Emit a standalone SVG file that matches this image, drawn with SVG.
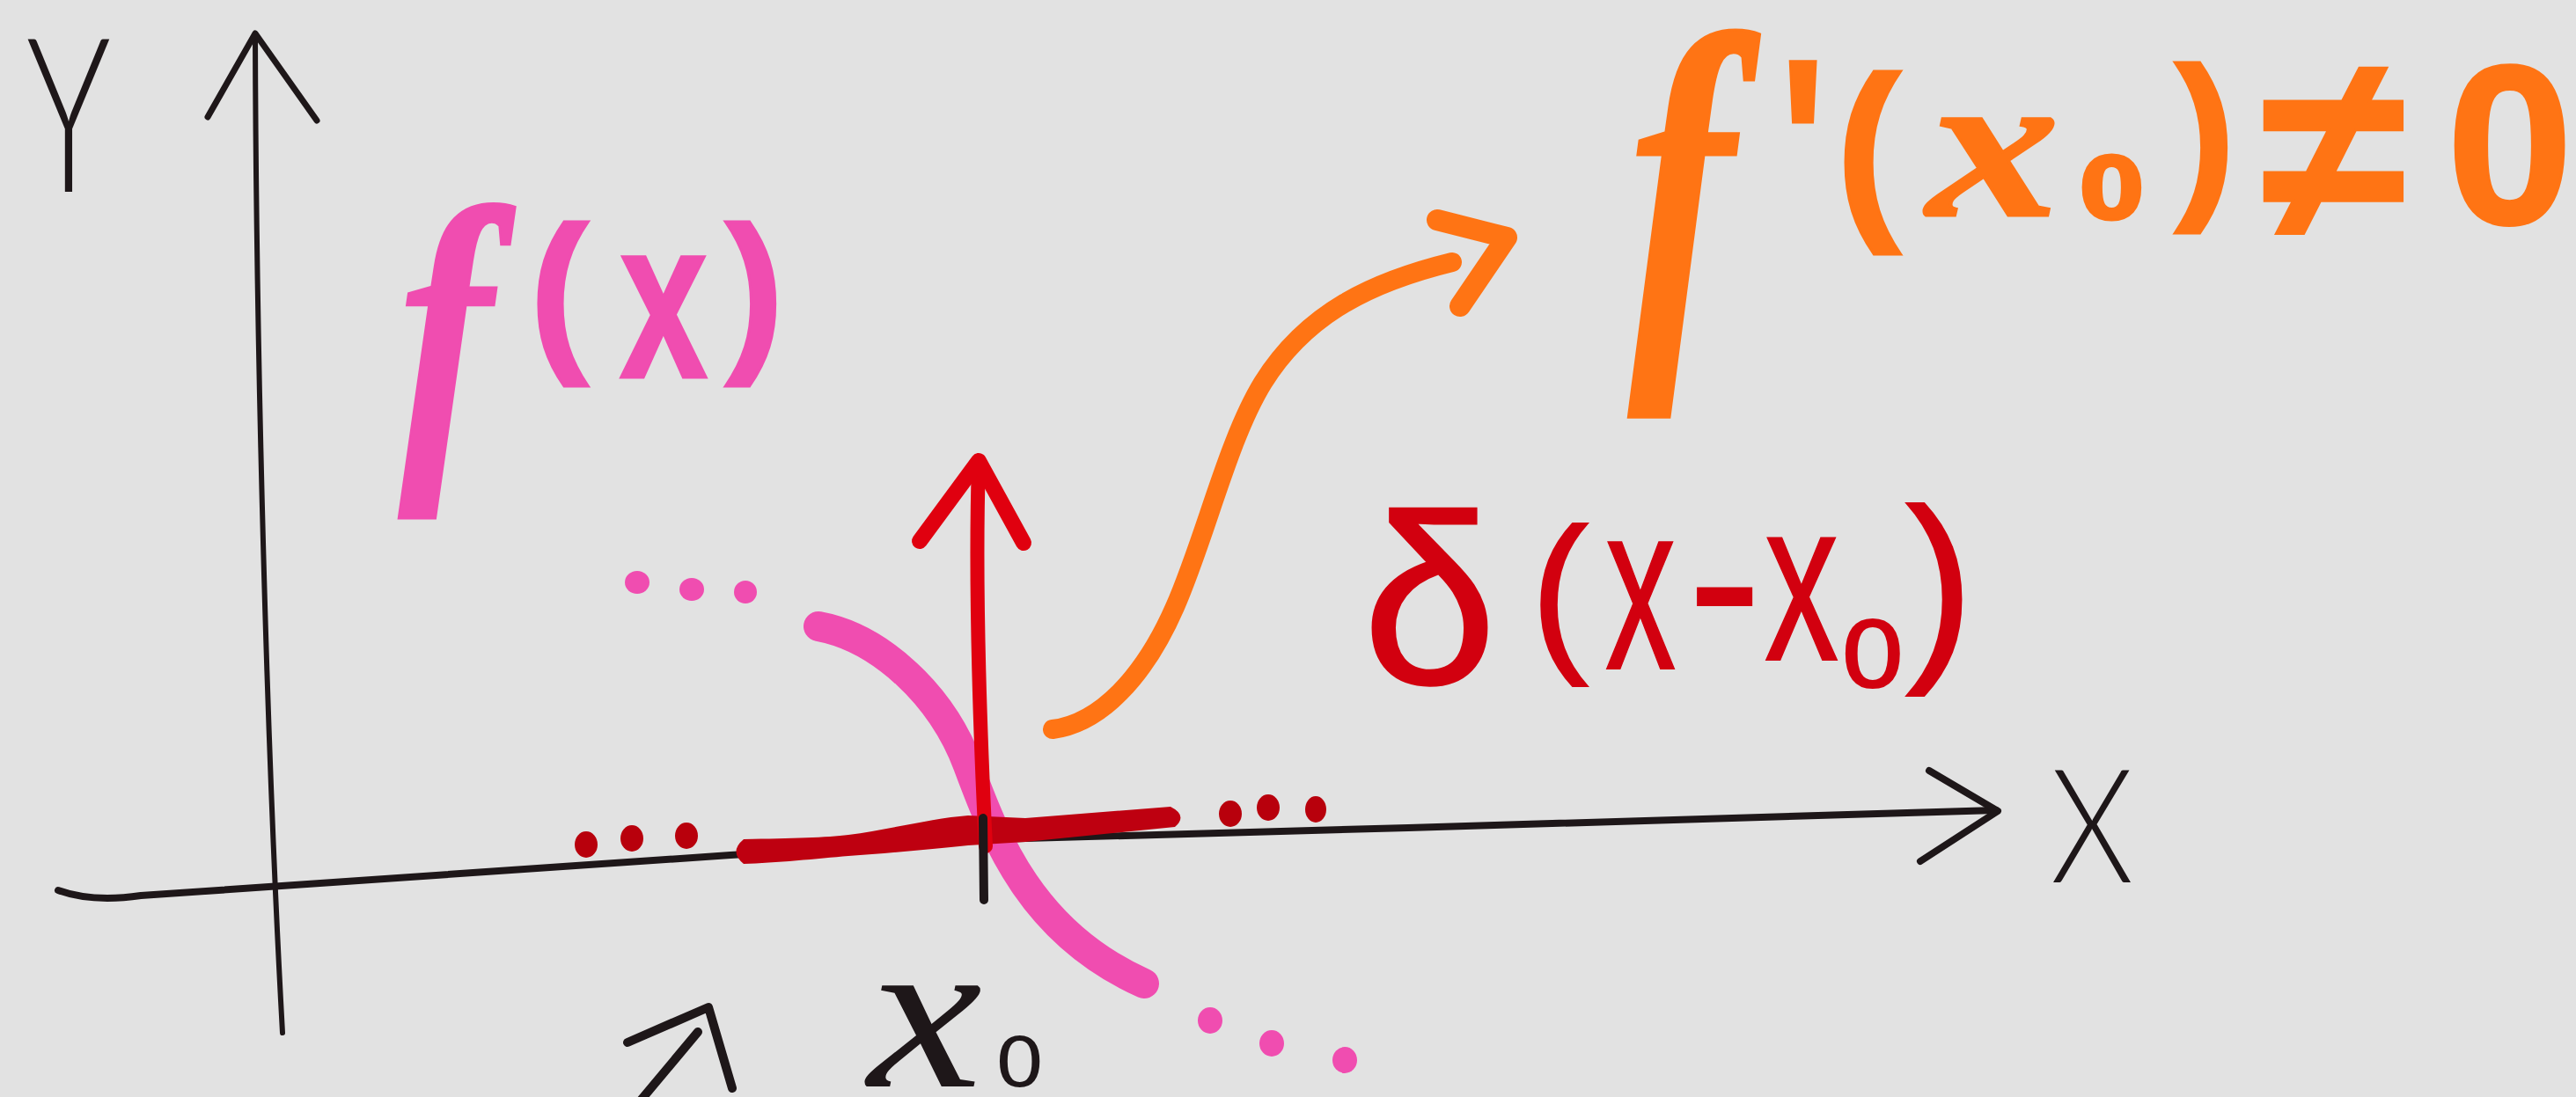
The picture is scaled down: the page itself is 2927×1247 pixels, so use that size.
<svg xmlns="http://www.w3.org/2000/svg" width="2927" height="1247" viewBox="0 0 2927 1247">
<style>
.ink{fill:none;stroke:#1e1719;stroke-linecap:round;stroke-linejoin:round}
.mk{fill:none;stroke-linecap:round;stroke-linejoin:round}
.thin{font-family:Lato,"DejaVu Sans",sans-serif;font-weight:300;fill:#1e1719}
.pink{fill:#f04db0;stroke:#f04db0;stroke-width:3}
.red{fill:#d2000f;stroke:#d2000f;stroke-width:2}
.orange{fill:#ff7414;stroke:#ff7414;stroke-width:3}
.sans{font-family:"Liberation Sans",Arial,sans-serif}
.serif{font-family:"Liberation Serif","Times New Roman",serif;font-style:italic}
.sub{font-family:"DejaVu Sans",sans-serif}
</style>
<rect width="2927" height="1247" fill="#e2e2e2"/>

<g id="y-axis">
  <path class="ink" stroke-width="6" d="M290,40 C291,400 303,850 321,1174"/>
  <path class="ink" stroke-width="7" d="M236,133 L290,38 L360,137"/>
</g>
<g id="x-axis">
  <path class="ink" stroke-width="8" d="M66,1012 Q105,1026 160,1018 L830,972 L1130,954 L1600,941 L2268,921"/>
  <path class="ink" stroke-width="8" d="M2192,876 L2270,922 L2182,979"/>
</g>

<g id="label-y">
  <text class="thin" font-size="244" transform="translate(30,218) scale(0.66,1)">Y</text>
</g>
<g id="label-x">
  <text class="thin" font-size="180" transform="translate(2330,1003) scale(0.84,1)">X</text>
</g>

<g id="curve-f">
  <path class="mk" stroke="#f04db0" stroke-width="34" d="M930,712 C1000,725 1070,790 1100,870 C1130,950 1170,1060 1300,1118"/>
  <g fill="#f04db0">
    <ellipse cx="724" cy="662" rx="14" ry="13"/>
    <ellipse cx="786" cy="670" rx="14" ry="13"/>
    <ellipse cx="847" cy="673" rx="13" ry="13"/>
    <ellipse cx="1375" cy="1160" rx="14" ry="15"/>
    <ellipse cx="1445" cy="1186" rx="14" ry="15"/>
    <ellipse cx="1528" cy="1205" rx="14" ry="15"/>
  </g>
</g>

<g id="delta-spike">
  <path fill="#be0010" d="M845,954 C900,953 940,952 964,949 C1010,943 1060,930 1100,927 L1165,930 L1330,917 Q1350,927 1335,940 L1165,957 L1100,961 C1060,965 1010,970 964,973 C930,976 880,981 845,982 Q828,968 845,954 Z"/>
  <g fill="#b8000c">
    <ellipse cx="666" cy="960" rx="13" ry="15"/>
    <ellipse cx="718" cy="953" rx="13" ry="15"/>
    <ellipse cx="780" cy="950" rx="13" ry="15"/>
    <ellipse cx="1398" cy="925" rx="13" ry="15"/>
    <ellipse cx="1441" cy="918" rx="13" ry="15"/>
    <ellipse cx="1495" cy="920" rx="12" ry="15"/>
  </g>
  <path class="mk" stroke="#e0000f" stroke-width="16" d="M1112,526 C1108,650 1112,800 1120,962"/>
  <path class="mk" stroke="#e0000f" stroke-width="18" d="M1045,615 L1112,524 L1163,617"/>
  <path class="ink" stroke-width="10" d="M1117,930 L1118,1023"/>
</g>

<g id="connectors">
  <path class="mk" stroke="#ff7414" stroke-width="22" d="M1196,829 C1250,822 1300,770 1335,690 C1370,610 1395,500 1435,435 C1485,355 1560,320 1650,298"/>
  <path class="mk" stroke="#ff7414" stroke-width="24" d="M1633,250 L1712,270 L1659,348"/>
  <path class="ink" stroke-width="10" d="M713,1185 L805,1145 L832,1237"/>
  <path class="ink" stroke-width="10" d="M727,1252 L793,1173"/>
</g>

<g id="label-x0">
  <text fill="#1e1719"><tspan class="serif" x="986" y="1235" font-size="250" textLength="130" lengthAdjust="spacingAndGlyphs">x</tspan><tspan class="sub" x="1130" y="1235" font-size="140">₀</tspan></text>
</g>

<g id="label-fx">
  <text class="pink"><tspan class="serif" font-weight="bold" x="453" y="506" font-size="390" textLength="106" lengthAdjust="spacingAndGlyphs">f</tspan><tspan class="sans" font-weight="bold" x="602" y="397" font-size="200">(</tspan><tspan class="sans" font-weight="bold" x="704" y="429" font-size="260" textLength="100" lengthAdjust="spacingAndGlyphs">x</tspan><tspan class="sans" font-weight="bold" x="824" y="397" font-size="200">)</tspan></text>
</g>

<g id="label-fprime">
  <text class="orange"><tspan class="serif" font-weight="bold" x="1850" y="372" font-size="480" textLength="120" lengthAdjust="spacingAndGlyphs">f</tspan><tspan class="sans" x="2018" y="290" font-size="320">'</tspan><tspan class="sans" font-weight="bold" x="2086" y="243" font-size="222">(</tspan><tspan class="serif" font-weight="bold" x="2190" y="245" font-size="240" textLength="150" lengthAdjust="spacingAndGlyphs">x</tspan><tspan class="sub" font-weight="bold" x="2362" y="249" font-size="175">₀</tspan><tspan class="sans" font-weight="bold" x="2471" y="222" font-size="207">)</tspan><tspan class="sans" font-weight="bold" x="2569" y="271" font-size="300">≠</tspan><tspan class="sans" font-weight="bold" x="2780" y="254" font-size="258">0</tspan></text>
</g>

<g id="label-delta">
  <text class="red"><tspan class="sans" x="1548" y="777" font-size="275">δ</tspan><tspan class="sans" x="1739" y="739" font-size="198">(</tspan><tspan class="sans" x="1824" y="760" font-size="272" textLength="80" lengthAdjust="spacingAndGlyphs">x</tspan><tspan class="sans" x="1918" y="745" font-size="250">-</tspan><tspan class="sans" x="2005" y="750" font-size="262" textLength="84" lengthAdjust="spacingAndGlyphs">x</tspan><tspan class="sub" x="2090" y="781" font-size="185">₀</tspan><tspan class="sans" x="2165" y="742" font-size="234">)</tspan></text>
</g>
</svg>
